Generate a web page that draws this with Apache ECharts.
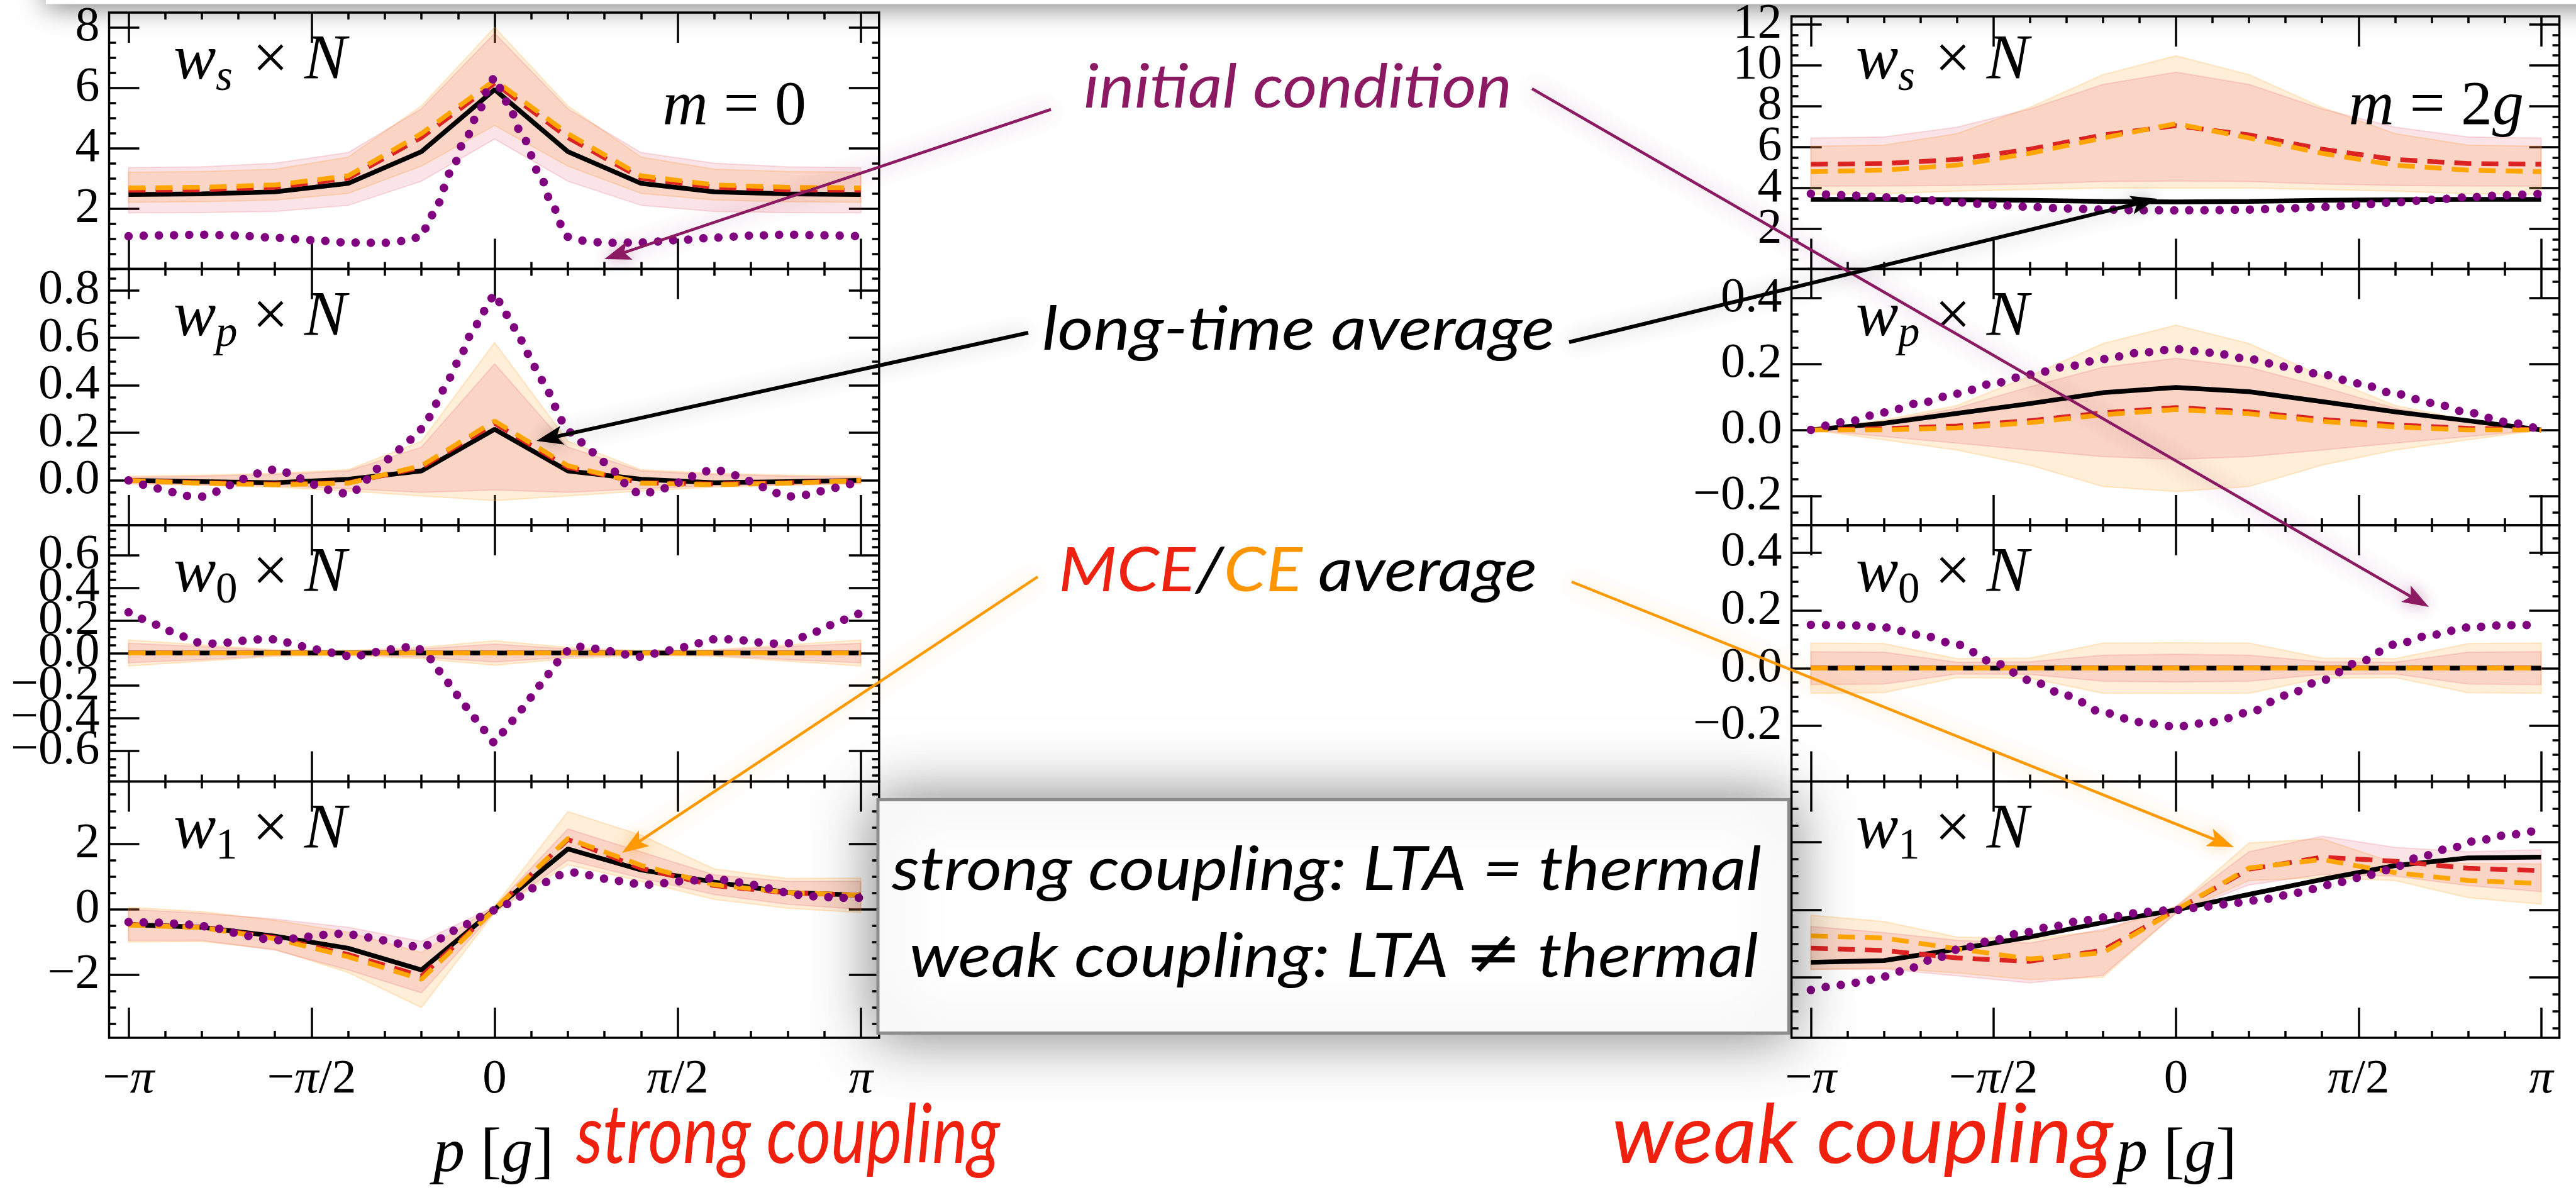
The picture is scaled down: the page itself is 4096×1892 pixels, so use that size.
<!DOCTYPE html>
<html><head><meta charset="utf-8">
<script src="https://cdn.jsdelivr.net/npm/echarts@6/dist/echarts.min.js"></script>
<style>html,body{margin:0;padding:0;background:#fff;overflow:hidden}#c{width:4096px;height:1892px}</style>
</head><body><div id="c"></div>
<script>
// ---------------- DATA (x in units of pi) ----------------
const pGrid = [-1, -0.8, -0.6, -0.4, -0.2, 0, 0.2, 0.4, 0.6, 0.8, 1];
const xTickVals = [-1, -0.5, 0, 0.5, 1];
const xTickLabels = ['−π', '−π/2', '0', 'π/2', 'π'];

// strong coupling (m = 0), w_s
const L_ws_ticks = [2, 4, 6, 8];
const L_ws_black = [2.46, 2.48, 2.55, 2.83, 3.88, 5.94, 3.88, 2.83, 2.55, 2.48, 2.46];
const L_ws_red = [2.60, 2.62, 2.70, 3.00, 4.35, 6.15, 4.35, 3.00, 2.70, 2.62, 2.60];
const L_ws_orange = [2.68, 2.70, 2.78, 3.08, 4.48, 6.25, 4.48, 3.08, 2.78, 2.70, 2.68];
const L_ws_redLo = [1.85, 1.86, 1.90, 2.10, 2.90, 4.30, 2.90, 2.10, 1.90, 1.86, 1.85];
const L_ws_redHi = [3.35, 3.38, 3.50, 3.85, 5.30, 7.80, 5.30, 3.85, 3.50, 3.38, 3.35];
const L_ws_orLo = [2.20, 2.22, 2.28, 2.50, 3.40, 4.75, 3.40, 2.50, 2.28, 2.22, 2.20];
const L_ws_orHi = [3.20, 3.22, 3.30, 3.70, 5.40, 8.00, 5.40, 3.70, 3.30, 3.22, 3.20];
const L_ws_purpleP = [-1, -0.9, -0.8, -0.7, -0.6, -0.5, -0.4, -0.3, -0.25, -0.2, -0.185, -0.16, -0.12, -0.08, -0.04, -0.02, 0, 0.02, 0.04, 0.08, 0.12, 0.16, 0.185, 0.2, 0.25, 0.3, 0.4, 0.5, 0.6, 0.7, 0.8, 0.9, 1];
const L_ws_purpleV = [1.08, 1.11, 1.13, 1.10, 1.03, 0.95, 0.87, 0.86, 0.92, 1.06, 1.40, 2.05, 3.20, 4.30, 5.30, 5.90, 6.35, 5.90, 5.30, 4.30, 3.20, 2.05, 1.40, 1.06, 0.92, 0.86, 0.87, 0.95, 1.03, 1.10, 1.13, 1.11, 1.08];

// strong coupling, w_p
const L_wp_ticks = [0, 0.2, 0.4, 0.6, 0.8];
const L_wp_black = [0.000, -0.005, -0.010, 0.005, 0.040, 0.215, 0.040, 0.005, -0.010, -0.005, 0.000];
const L_wp_red = [0.000, -0.010, -0.015, -0.010, 0.055, 0.240, 0.055, -0.010, -0.015, -0.010, 0.000];
const L_wp_orange = [0.000, -0.012, -0.018, -0.012, 0.062, 0.250, 0.062, -0.012, -0.018, -0.012, 0.000];
const L_wp_redLo = [-0.012, -0.018, -0.022, -0.035, -0.050, -0.040, -0.050, -0.035, -0.022, -0.018, -0.012];
const L_wp_redHi = [0.012, 0.018, 0.025, 0.040, 0.140, 0.490, 0.140, 0.040, 0.025, 0.018, 0.012];
const L_wp_orLo = [-0.015, -0.020, -0.028, -0.045, -0.065, -0.085, -0.065, -0.045, -0.028, -0.020, -0.015];
const L_wp_orHi = [0.018, 0.022, 0.030, 0.045, 0.165, 0.580, 0.165, 0.045, 0.030, 0.022, 0.018];
const L_wp_purpleP = [-1, -0.96, -0.92, -0.875, -0.835, -0.795, -0.755, -0.715, -0.675, -0.635, -0.597, -0.558, -0.517, -0.477, -0.437, -0.398, -0.365, -0.336, -0.304, -0.273, -0.242, -0.211, -0.185, -0.165, -0.147, -0.123, -0.103, -0.085, -0.065, -0.043, -0.023, 0,
  0.023, 0.043, 0.065, 0.085, 0.103, 0.123, 0.147, 0.165, 0.185, 0.211, 0.242, 0.273, 0.304, 0.336, 0.365, 0.398, 0.437, 0.477, 0.517, 0.558, 0.597, 0.635, 0.675, 0.715, 0.755, 0.795, 0.835, 0.875, 0.92, 0.96, 1];
const L_wp_purpleV = [0.000, -0.018, -0.034, -0.050, -0.066, -0.068, -0.046, -0.016, 0.012, 0.035, 0.047, 0.030, 0.000, -0.028, -0.047, -0.058, -0.030, 0.030, 0.073, 0.115, 0.157, 0.198, 0.250, 0.310, 0.370, 0.432, 0.492, 0.545, 0.615, 0.665, 0.725, 0.785,
  0.725, 0.665, 0.615, 0.545, 0.492, 0.432, 0.370, 0.310, 0.250, 0.198, 0.157, 0.115, 0.073, 0.030, -0.030, -0.058, -0.047, -0.028, 0.000, 0.030, 0.047, 0.035, 0.012, -0.016, -0.046, -0.068, -0.066, -0.050, -0.034, -0.018, 0.000];

// strong coupling, w_0
const L_w0_ticks = [-0.6, -0.4, -0.2, 0, 0.2, 0.4, 0.6];
const L_w0_black = [0, 0, 0, 0, 0, 0, 0, 0, 0, 0, 0];
const L_w0_red = [0, 0, 0, 0, 0, 0, 0, 0, 0, 0, 0];
const L_w0_orange = [0, 0, 0, 0, 0, 0, 0, 0, 0, 0, 0];
const L_w0_redLo = [-0.060, -0.040, -0.015, -0.010, -0.025, -0.055, -0.025, -0.010, -0.015, -0.040, -0.060];
const L_w0_redHi = [0.060, 0.040, 0.015, 0.010, 0.025, 0.055, 0.025, 0.010, 0.015, 0.040, 0.060];
const L_w0_orLo = [-0.080, -0.050, -0.020, -0.015, -0.035, -0.075, -0.035, -0.015, -0.020, -0.050, -0.080];
const L_w0_orHi = [0.080, 0.050, 0.020, 0.015, 0.035, 0.075, 0.035, 0.015, 0.020, 0.050, 0.080];
const L_w0_purpleP = [-1, -0.965, -0.921, -0.887, -0.846, -0.802, -0.764, -0.718, -0.676, -0.637, -0.594, -0.556, -0.512, -0.471, -0.429, -0.386, -0.347, -0.304, -0.262, -0.219, -0.185, -0.162, -0.134, -0.108, -0.085, -0.057, -0.031, 0,
  0.031, 0.057, 0.085, 0.108, 0.134, 0.162, 0.185, 0.219, 0.262, 0.304, 0.347, 0.386, 0.429, 0.471, 0.512, 0.556, 0.594, 0.637, 0.676, 0.718, 0.764, 0.802, 0.846, 0.887, 0.921, 0.965, 1];
const L_w0_purpleV = [0.250, 0.210, 0.173, 0.135, 0.100, 0.060, 0.058, 0.065, 0.078, 0.084, 0.084, 0.060, 0.035, 0.015, -0.005, -0.026, -0.005, 0.015, 0.030, 0.042, -0.005, -0.083, -0.166, -0.247, -0.317, -0.397, -0.470, -0.550,
  -0.470, -0.397, -0.317, -0.247, -0.166, -0.083, -0.005, 0.042, 0.030, 0.015, -0.005, -0.026, -0.005, 0.015, 0.035, 0.060, 0.084, 0.084, 0.078, 0.065, 0.058, 0.060, 0.100, 0.135, 0.173, 0.210, 0.250];

// strong coupling, w_1
const L_w1_ticks = [-2, 0, 2];
const L_w1_black = [-0.47, -0.55, -0.82, -1.19, -1.85, 0.00, 1.84, 1.20, 0.83, 0.51, 0.43];
const L_w1_red = [-0.47, -0.55, -0.87, -1.38, -2.04, 0.00, 2.13, 1.25, 0.72, 0.50, 0.43];
const L_w1_orange = [-0.48, -0.56, -0.90, -1.45, -2.14, 0.00, 2.16, 1.34, 0.75, 0.51, 0.43];
const L_w1_redLo = [-0.95, -0.95, -1.25, -1.85, -2.55, -0.08, 1.50, 0.95, 0.45, 0.15, 0.00];
const L_w1_redHi = [0.00, -0.12, -0.30, -0.55, -0.98, 0.08, 2.45, 1.75, 1.05, 0.85, 0.85];
const L_w1_orLo = [-1.00, -0.98, -1.22, -1.93, -3.00, -0.10, 1.36, 0.85, 0.30, 0.03, -0.10];
const L_w1_orHi = [0.06, -0.07, -0.34, -0.70, -1.32, 0.10, 2.98, 2.26, 1.23, 0.94, 0.95];
const L_w1_purpleP = [-1, -0.917, -0.829, -0.743, -0.703, -0.659, -0.619, -0.578, -0.535, -0.493, -0.45, -0.406, -0.366, -0.324, -0.283, -0.24, -0.199, -0.161, -0.125, -0.087, -0.047, -0.009, 0.028, 0.065, 0.102, 0.139, 0.177, 0.218, 0.259, 0.302, 0.343, 0.386, 0.427, 0.469, 0.512, 0.552, 0.596, 0.638, 0.681, 0.722, 0.765, 0.806, 0.85, 0.891, 0.936, 1];
const L_w1_purpleV = [-0.39, -0.41, -0.47, -0.60, -0.74, -0.84, -0.92, -0.95, -0.87, -0.82, -0.76, -0.74, -0.82, -0.90, -1.00, -1.11, -1.16, -0.98, -0.71, -0.51, -0.26, -0.05, 0.14, 0.38, 0.64, 0.83, 1.04, 1.12, 1.04, 0.93, 0.86, 0.78, 0.75, 0.80, 0.86, 0.88, 0.95, 0.88, 0.80, 0.72, 0.59, 0.48, 0.41, 0.38, 0.35, 0.35];

// weak coupling (m = 2g), w_s
const R_ws_ticks = [2, 4, 6, 8, 10, 12];
const R_ws_black = [3.45, 3.45, 3.43, 3.40, 3.35, 3.32, 3.35, 3.40, 3.43, 3.45, 3.45];
const R_ws_red = [5.17, 5.20, 5.40, 5.90, 6.60, 7.05, 6.60, 5.90, 5.40, 5.20, 5.17];
const R_ws_orange = [4.80, 4.88, 5.12, 5.70, 6.45, 7.15, 6.45, 5.70, 5.12, 4.88, 4.80];
const R_ws_redLo = [4.09, 4.10, 4.13, 4.20, 4.32, 4.34, 4.32, 4.20, 4.13, 4.10, 4.09];
const R_ws_redHi = [6.45, 6.50, 6.98, 7.87, 9.07, 9.67, 9.07, 7.87, 6.98, 6.50, 6.45];
const R_ws_orLo = [3.69, 3.72, 3.85, 3.93, 4.00, 4.00, 4.00, 3.93, 3.85, 3.72, 3.69];
const R_ws_orHi = [6.05, 6.10, 6.66, 7.95, 9.55, 10.47, 9.55, 7.95, 6.66, 6.10, 6.05];
const R_ws_purpleP = [-1, -0.9, -0.8, -0.7, -0.6, -0.5, -0.4, -0.3, -0.2, -0.1, 0, 0.1, 0.2, 0.3, 0.4, 0.5, 0.6, 0.7, 0.8, 0.9, 1];
const R_ws_purpleV = [3.72, 3.65, 3.55, 3.43, 3.30, 3.18, 3.08, 3.00, 2.95, 2.92, 2.91, 2.92, 2.95, 3.00, 3.08, 3.18, 3.30, 3.43, 3.55, 3.65, 3.72];

// weak coupling, w_p
const R_wp_ticks = [-0.2, 0, 0.2, 0.4];
const R_wp_black = [0.000, 0.020, 0.050, 0.080, 0.113, 0.129, 0.116, 0.086, 0.055, 0.028, 0.000];
const R_wp_red = [0.000, 0.004, 0.012, 0.028, 0.052, 0.068, 0.055, 0.032, 0.015, 0.005, 0.000];
const R_wp_orange = [0.000, 0.000, 0.006, 0.022, 0.046, 0.062, 0.049, 0.026, 0.009, 0.000, 0.000];
const R_wp_redLo = [0.000, -0.020, -0.040, -0.061, -0.081, -0.089, -0.081, -0.061, -0.040, -0.020, 0.000];
const R_wp_redHi = [0.000, 0.025, 0.066, 0.131, 0.190, 0.217, 0.190, 0.131, 0.066, 0.025, 0.000];
const R_wp_orLo = [0.000, -0.030, -0.061, -0.107, -0.172, -0.187, -0.172, -0.107, -0.061, -0.030, 0.000];
const R_wp_orHi = [0.000, 0.030, 0.074, 0.164, 0.262, 0.318, 0.262, 0.164, 0.074, 0.030, 0.000];
const R_wp_purpleP = [-1, -0.9, -0.8, -0.7, -0.6, -0.5, -0.4, -0.3, -0.2, -0.1, 0, 0.1, 0.2, 0.3, 0.4, 0.5, 0.6, 0.7, 0.8, 0.9, 1];
const R_wp_purpleV = [0.000, 0.025, 0.053, 0.082, 0.110, 0.141, 0.168, 0.192, 0.215, 0.234, 0.245, 0.234, 0.215, 0.192, 0.168, 0.141, 0.110, 0.082, 0.053, 0.025, 0.000];

// weak coupling, w_0
const R_w0_ticks = [-0.2, 0, 0.2, 0.4];
const R_w0_black = [0, 0, 0, 0, 0, 0, 0, 0, 0, 0, 0];
const R_w0_red = [0, 0, 0, 0, 0, 0, 0, 0, 0, 0, 0];
const R_w0_orange = [0, 0, 0, 0, 0, 0, 0, 0, 0, 0, 0];
const R_w0_redLo = [-0.057, -0.055, -0.020, -0.022, -0.045, -0.048, -0.045, -0.022, -0.020, -0.055, -0.057];
const R_w0_redHi = [0.057, 0.055, 0.020, 0.022, 0.045, 0.048, 0.045, 0.022, 0.020, 0.055, 0.057];
const R_w0_orLo = [-0.087, -0.085, -0.033, -0.035, -0.087, -0.088, -0.087, -0.035, -0.033, -0.085, -0.087];
const R_w0_orHi = [0.087, 0.085, 0.033, 0.035, 0.087, 0.088, 0.087, 0.035, 0.033, 0.085, 0.087];
const R_w0_purpleP = [-1, -0.9, -0.8, -0.7, -0.6, -0.5, -0.4, -0.3, -0.2, -0.1, 0, 0.1, 0.2, 0.3, 0.4, 0.5, 0.6, 0.7, 0.8, 0.9, 1];
const R_w0_purpleV = [0.150, 0.149, 0.141, 0.115, 0.082, 0.020, -0.042, -0.095, -0.154, -0.187, -0.203, -0.187, -0.154, -0.095, -0.042, 0.020, 0.082, 0.115, 0.141, 0.149, 0.150];

// weak coupling, w_1
const R_w1_ticks = [-2, 0, 2];
const R_w1_black = [-1.55, -1.50, -1.16, -0.80, -0.37, 0.00, 0.46, 0.90, 1.31, 1.54, 1.56];
const R_w1_red = [-1.13, -1.20, -1.42, -1.52, -1.19, 0.00, 1.20, 1.56, 1.44, 1.23, 1.16];
const R_w1_orange = [-0.77, -0.83, -1.15, -1.45, -1.27, 0.00, 1.24, 1.49, 1.10, 0.87, 0.78];
const R_w1_redLo = [-1.76, -1.75, -1.95, -2.16, -1.93, -0.10, 0.74, 1.05, 1.00, 0.72, 0.54];
const R_w1_redHi = [-0.49, -0.67, -0.90, -0.98, -0.57, 0.10, 1.72, 2.18, 1.85, 1.72, 1.78];
const R_w1_orLo = [-1.76, -1.72, -1.86, -2.06, -1.99, -0.10, 0.87, 0.95, 0.87, 0.36, 0.17];
const R_w1_orHi = [-0.16, -0.34, -0.80, -0.85, -0.62, 0.10, 1.98, 2.10, 1.39, 1.37, 1.36];
const R_w1_purpleP = [-1, -0.915, -0.829, -0.748, -0.667, -0.587, -0.506, -0.423, -0.338, -0.255, -0.171, -0.086, 0, 0.085, 0.165, 0.25, 0.333, 0.42, 0.5, 0.582, 0.662, 0.743, 0.826, 0.911, 1];
const R_w1_purpleV = [-2.37, -2.22, -2.06, -1.81, -1.47, -1.14, -0.91, -0.68, -0.49, -0.31, -0.19, -0.06, 0.00, 0.10, 0.21, 0.33, 0.51, 0.74, 0.95, 1.18, 1.54, 1.80, 2.05, 2.22, 2.38];

// ---------------- LAYOUT / STYLE ----------------
const SERIF = "'Liberation Serif','Times New Roman',Times,serif";
const SANS = "Lato,'Open Sans',sans-serif";
const X_MIN = -1.053, X_MAX = 1.05;
const COLS = [{ left: 173.5, width: 1224.3 }, { left: 2848.6, width: 1221 }];
const ROW_TOP = 19.9, ROW_H = 407.5;
const MAJ_LEN = 48, MIN_LEN = 11, TICK_W = 3.5;
const C_BLACK = '#000', C_RED = '#dc2323', C_ORANGE = '#ffa500', C_PURPLE = '#800080';
const BAND_RED = 'rgba(220,50,70,0.13)', BAND_OR = 'rgba(255,170,60,0.2)';
const LW = 7.5;

const fmtInt = v => (v < 0 ? '−' : '') + Math.abs(v).toFixed(0);
const fmt1 = v => (v < -1e-9 ? '−' : '') + Math.abs(v).toFixed(1);

const panels = [
  { col: 0, row: 0, sub: 's', subIt: true, y: [0, 8.49], ticks: L_ws_ticks, mstep: 0.5, fmt: fmtInt, black: L_ws_black, red: L_ws_red, orange: L_ws_orange, redLo: L_ws_redLo, redHi: L_ws_redHi, orLo: L_ws_orLo, orHi: L_ws_orHi, pp: L_ws_purpleP, pv: L_ws_purpleV },
  { col: 0, row: 1, sub: 'p', subIt: true, y: [-0.188, 0.89], ticks: L_wp_ticks, mstep: 0.05, fmt: fmt1, black: L_wp_black, red: L_wp_red, orange: L_wp_orange, redLo: L_wp_redLo, redHi: L_wp_redHi, orLo: L_wp_orLo, orHi: L_wp_orHi, pp: L_wp_purpleP, pv: L_wp_purpleV },
  { col: 0, row: 2, sub: '0', subIt: false, y: [-0.787, 0.784], ticks: L_w0_ticks, mstep: 0.05, fmt: fmt1, black: L_w0_black, red: L_w0_red, orange: L_w0_orange, redLo: L_w0_redLo, redHi: L_w0_redHi, orLo: L_w0_orLo, orHi: L_w0_orHi, pp: L_w0_purpleP, pv: L_w0_purpleV },
  { col: 0, row: 3, sub: '1', subIt: false, y: [-3.92, 3.90], ticks: L_w1_ticks, mstep: 0.5, fmt: fmtInt, black: L_w1_black, red: L_w1_red, orange: L_w1_orange, redLo: L_w1_redLo, redHi: L_w1_redHi, orLo: L_w1_orLo, orHi: L_w1_orHi, pp: L_w1_purpleP, pv: L_w1_purpleV },
  { col: 1, row: 0, sub: 's', subIt: true, y: [0.05, 12.4], ticks: R_ws_ticks, mstep: 0.5, fmt: fmtInt, black: R_ws_black, red: R_ws_red, orange: R_ws_orange, redLo: R_ws_redLo, redHi: R_ws_redHi, orLo: R_ws_orLo, orHi: R_ws_orHi, pp: R_ws_purpleP, pv: R_ws_purpleV },
  { col: 1, row: 1, sub: 'p', subIt: true, y: [-0.289, 0.489], ticks: R_wp_ticks, mstep: 0.05, fmt: fmt1, black: R_wp_black, red: R_wp_red, orange: R_wp_orange, redLo: R_wp_redLo, redHi: R_wp_redHi, orLo: R_wp_orLo, orHi: R_wp_orHi, pp: R_wp_purpleP, pv: R_wp_purpleV },
  { col: 1, row: 2, sub: '0', subIt: false, y: [-0.393, 0.496], ticks: R_w0_ticks, mstep: 0.05, fmt: fmt1, black: R_w0_black, red: R_w0_red, orange: R_w0_orange, redLo: R_w0_redLo, redHi: R_w0_redHi, orLo: R_w0_orLo, orHi: R_w0_orHi, pp: R_w0_purpleP, pv: R_w0_purpleV },
  { col: 1, row: 3, sub: '1', subIt: false, y: [-3.78, 3.80], ticks: R_w1_ticks, mstep: 0.5, fmt: fmtInt, black: R_w1_black, red: R_w1_red, orange: R_w1_orange, redLo: R_w1_redLo, redHi: R_w1_redHi, orLo: R_w1_orLo, orHi: R_w1_orHi, pp: R_w1_purpleP, pv: R_w1_purpleV }
];

function minorTicks(lo, hi, step, majors) {
  const out = [];
  for (let k = Math.ceil(lo / step - 1e-9); k * step <= hi + 1e-9; k++) {
    const v = +(k * step).toFixed(6);
    if (!majors.some(m => Math.abs(m - v) < 1e-9)) out.push(v);
  }
  return out;
}
const pairs = (xs, ys) => xs.map((x, i) => [x, ys[i]]);

function txt(x, baseline, text, font, fill, off, align, z, scaleX) {
  const e = { type: 'text', x: x, y: baseline - off, z: z, silent: true, style: { text: text, font: font, fill: fill, align: align, verticalAlign: 'middle', textAlign: align, textVerticalAlign: 'middle' } };
  if (scaleX) e.scaleX = scaleX;
  return e;
}
function richTxt(x, baseline, text, rich, off, align, z, scaleX) {
  const e = txt(x, baseline, text, rich[Object.keys(rich)[0]].font, '#000', off, align, z, scaleX);
  e.style.rich = rich;
  return e;
}
const mctx = document.createElement('canvas').getContext('2d');
function fitScale(font, text, target) { mctx.font = font; return target / mctx.measureText(text).width; }

const option = { animation: false, backgroundColor: '#fff', grid: [], xAxis: [], yAxis: [], series: [], graphic: [] };

const xLabelCfg = {
  show: true, customValues: xTickVals, margin: 28, color: '#000', showMinLabel: true, showMaxLabel: true, hideOverlap: false,
  formatter: v => { const i = xTickVals.findIndex(t => Math.abs(t - v) < 1e-9); const s = i < 0 ? '' : xTickLabels[i]; return '{n|' + s.replace(/π/g, '}{i|π}{n|') + '}'; },
  rich: { n: { fontFamily: SERIF, fontSize: 77, color: '#000' }, i: { fontFamily: SERIF, fontSize: 77, fontStyle: 'italic', color: '#000' } }
};

function bandSeries(g, lo, hi, fill, edge) {
  return {
    type: 'custom', xAxisIndex: 4 * g, yAxisIndex: 4 * g, silent: true, clip: true, z: 1,
    data: pGrid.map((p, i) => [p, lo[i], hi[i]]), encode: { x: 0, y: [1, 2] },
    renderItem: function (params, api) {
      if (params.dataIndex !== 0) return { type: 'group', children: [] };
      const pts = [];
      for (let i = 0; i < pGrid.length; i++) pts.push(api.coord([pGrid[i], hi[i]]));
      for (let i = pGrid.length - 1; i >= 0; i--) pts.push(api.coord([pGrid[i], lo[i]]));
      return { type: 'polygon', shape: { points: pts }, style: { fill: fill, stroke: edge, lineWidth: 2 } };
    }
  };
}

panels.forEach((P, g) => {
  const C = COLS[P.col];
  const top = ROW_TOP + P.row * ROW_H;
  option.grid.push({ left: C.left, top: top, width: C.width, height: ROW_H, show: true, borderColor: '#000', borderWidth: 3.5, backgroundColor: 'rgba(0,0,0,0)' });
  const xMinor = minorTicks(X_MIN, X_MAX, 0.1, xTickVals);
  const yMinor = minorTicks(P.y[0], P.y[1], P.mstep, P.ticks);
  const mk = (dim, pos, vals, len, label) => ({
    type: 'value', gridIndex: g, position: pos,
    min: dim === 'x' ? X_MIN : P.y[0], max: dim === 'x' ? X_MAX : P.y[1],
    axisLine: { show: false, onZero: false }, splitLine: { show: false },
    axisTick: { show: true, inside: true, length: len, customValues: vals, lineStyle: { color: '#000', width: TICK_W } },
    axisLabel: label || { show: false }
  });
  // tick labels split over two left axes (alternating), so none are dropped for overlapping
  const yLab = vals => ({ show: true, customValues: vals, margin: 15, color: '#000', fontFamily: SERIF, fontSize: 78, formatter: P.fmt, showMinLabel: true, showMaxLabel: true, hideOverlap: false });
  const evenT = P.ticks.filter((v, i) => i % 2 === 0), oddT = P.ticks.filter((v, i) => i % 2 === 1);
  option.xAxis.push(mk('x', 'bottom', xTickVals, MAJ_LEN, P.row === 3 ? xLabelCfg : null), mk('x', 'bottom', xMinor, MIN_LEN), mk('x', 'top', xTickVals, MAJ_LEN), mk('x', 'top', xMinor, MIN_LEN));
  option.yAxis.push(mk('y', 'left', P.ticks, MAJ_LEN, yLab(evenT)), mk('y', 'left', yMinor, MIN_LEN, yLab(oddT)), mk('y', 'right', P.ticks, MAJ_LEN), mk('y', 'right', yMinor, MIN_LEN));
  const ax = { xAxisIndex: 4 * g, yAxisIndex: 4 * g, symbol: 'none', silent: true };
  option.series.push(bandSeries(g, P.orLo, P.orHi, BAND_OR, 'rgba(255,170,60,0.25)'));
  option.series.push(bandSeries(g, P.redLo, P.redHi, BAND_RED, 'rgba(220,50,70,0.15)'));
  option.series.push(Object.assign({ type: 'line', data: pairs(pGrid, P.black), lineStyle: { color: C_BLACK, width: LW }, z: 3 }, ax));
  option.series.push(Object.assign({ type: 'line', data: pairs(pGrid, P.red), lineStyle: { color: C_RED, width: LW, type: [27, 16] }, z: 4 }, ax));
  option.series.push(Object.assign({ type: 'line', data: pairs(pGrid, P.orange), lineStyle: { color: C_ORANGE, width: LW, type: [27, 16] }, z: 5 }, ax));
  option.series.push(Object.assign({ type: 'line', data: pairs(P.pp, P.pv), smooth: 0.3, smoothMonotone: 'x', lineStyle: { color: C_PURPLE, width: 13.5, type: [0.1, 24], cap: 'round' }, z: 6 }, ax));

  // panel label  w_sub x N
  const gl = C.left;
  const G = option.graphic;
  G.push(txt(gl + 102.5, top + 113, 'w', `italic 101px ${SERIF}`, '#000', 0.3375 * 101, 'left', 10));
  G.push(txt(gl + 169.5, top + 128, P.sub, `${P.subIt ? 'italic ' : ''}69px ${SERIF}`, '#000', 0.3375 * 69, 'left', 10));
  G.push(richTxt(gl + 228, top + 113, '{r|× }{i|N}', { r: { font: `101px ${SERIF}`, fill: '#000' }, i: { font: `italic 101px ${SERIF}`, fill: '#000' } }, 0.3375 * 101, 'left', 10));
});

// m labels
option.graphic.push(richTxt(1282, 204, '{i|m}{r| = 0}', { i: { font: `italic 100px ${SERIF}`, fill: '#000' }, r: { font: `100px ${SERIF}`, fill: '#000' } }, 0.3375 * 100, 'right', 10));
option.graphic.push(richTxt(4013, 204, '{i|m}{r| = 2}{i|g}', { i: { font: `italic 100px ${SERIF}`, fill: '#000' }, r: { font: `100px ${SERIF}`, fill: '#000' } }, 0.3375 * 100, 'right', 10));
// p [g] axis titles
const pgRich = { i: { font: `italic 100px ${SERIF}`, fill: '#000' }, r: { font: `100px ${SERIF}`, fill: '#000' } };
option.graphic.push(richTxt(689, 1869, '{i|p}{r| [}{i|g}{r|]}', pgRich, 0.3375 * 100, 'left', 10));
option.graphic.push(richTxt(3365, 1869, '{i|p}{r| [}{i|g}{r|]}', pgRich, 0.3375 * 100, 'left', 10));

// red coupling titles
const fRed = `italic 130px ${SANS}`;
option.graphic.push(txt(916, 1857, 'strong coupling', fRed, '#f0200f', 0.387 * 130, 'left', 10, fitScale(fRed, 'strong coupling', 674)));
option.graphic.push(txt(2563, 1857, 'weak coupling', fRed, '#f0200f', 0.387 * 130, 'left', 10, fitScale(fRed, 'weak coupling', 797)));

// arrows
function arrow(x1, y1, x2, y2, color, lw, glow) {
  const dx = x2 - x1, dy = y2 - y1, L = Math.hypot(dx, dy), ux = dx / L, uy = dy / L;
  const hl = 42, hw = 15;
  const bx = x2 - ux * hl, by = y2 - uy * hl;
  return [
    { type: 'line', z: 20, silent: true, shape: { x1: x1, y1: y1, x2: bx + ux * 10, y2: by + uy * 10 }, style: { stroke: color, lineWidth: lw, shadowBlur: 30, shadowColor: glow } },
    { type: 'polygon', z: 21, silent: true, shape: { points: [[x2, y2], [bx - uy * hw, by + ux * hw], [bx + ux * 9, by + uy * 9], [bx + uy * hw, by - ux * hw]] }, style: { fill: color, shadowBlur: 25, shadowColor: glow } }
  ];
}
const C_IC = '#8c1a62';
option.graphic.push(...arrow(1671, 174, 961, 412, C_IC, 4.5, 'rgba(140,26,98,0.45)'));
option.graphic.push(...arrow(2436, 141, 3862, 965, C_IC, 4.5, 'rgba(140,26,98,0.45)'));
option.graphic.push(...arrow(1635, 529, 853, 701, '#000', 6, 'rgba(0,0,0,0.3)'));
option.graphic.push(...arrow(2495, 544, 3430, 316, '#000', 6, 'rgba(0,0,0,0.3)'));
option.graphic.push(...arrow(1650, 917, 989, 1356, '#ff9900', 4.5, 'rgba(255,150,0,0.45)'));
option.graphic.push(...arrow(2499, 925, 3552, 1347, '#ff9900', 4.5, 'rgba(255,150,0,0.45)'));

// annotation texts
const fAnn = `italic 97px ${SANS}`;
option.graphic.push(txt(1723, 177.6, 'initial condition', fAnn, C_IC, 0.387 * 97, 'left', 22, fitScale(fAnn, 'initial condition', 681)));
option.graphic.push(txt(1657, 562, 'long-time average', fAnn, '#000', 0.387 * 97, 'left', 22, fitScale(fAnn, 'long-time average', 815)));
option.graphic.push(richTxt(1683, 946, '{a|MCE}{k|/}{b|CE}{k| average}', { a: { font: fAnn, fill: '#ee2211' }, k: { font: fAnn, fill: '#000' }, b: { font: fAnn, fill: '#ff9500' } }, 0.387 * 97, 'left', 22, fitScale(fAnn, 'MCE/CE average', 761)));

// top shadow bar
option.graphic.push({ type: 'rect', z: 40, silent: true, shape: { x: 73, y: -300, width: 4200, height: 306.6 }, style: { fill: '#fff', shadowBlur: 40, shadowColor: 'rgba(0,0,0,0.5)', shadowOffsetY: 5 } });

// central box
option.graphic.push({ type: 'rect', z: 30, silent: true, shape: { x: 1396, y: 1271.6, width: 1448.4, height: 371 }, style: { fill: '#fff', stroke: '#8c8c8c', lineWidth: 5, shadowBlur: 90, shadowColor: 'rgba(0,0,0,0.5)' } });
const fBox = `italic 98px ${SANS}`;
const fNeq = `italic 98px 'DejaVu Sans','Noto Sans',sans-serif`;
option.graphic.push(txt(2801, 1421, 'strong coupling: LTA = thermal', fBox, '#000', 0.387 * 98, 'right', 31, fitScale(fBox, 'strong coupling: LTA = thermal', 1383)));
option.graphic.push(richTxt(2796, 1559, '{a|weak coupling: LTA }{b|≠}{a| thermal}', { a: { font: fBox, fill: '#000' }, b: { font: fNeq, fill: '#000' } }, 0.387 * 98, 'right', 31, fitScale(fBox, 'weak coupling: LTA = thermal', 1322)));

const chart = echarts.init(document.getElementById('c'), null, { renderer: 'canvas' });
chart.setOption(option);
</script>
</body></html>
